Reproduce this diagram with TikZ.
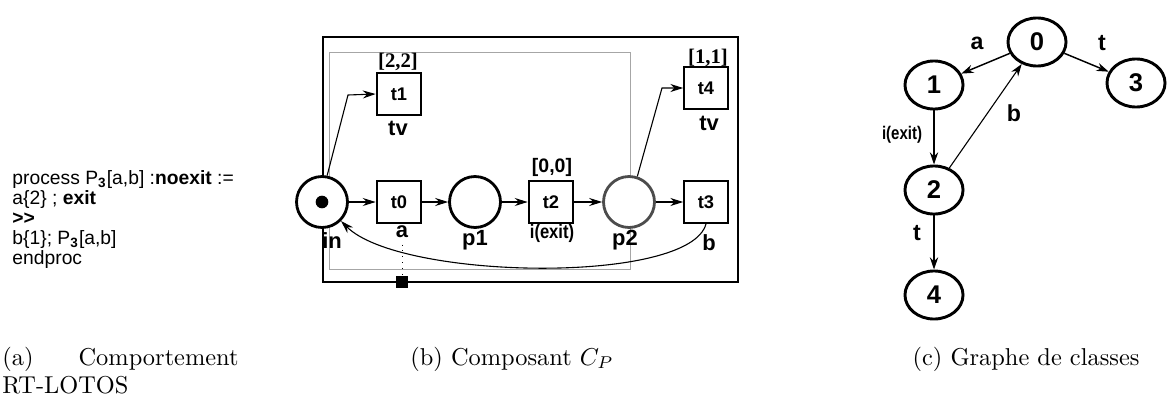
\documentclass[tikz,border=0pt]{standalone}
\usepackage{fontspec}
\newfontfamily\arial{Liberation Sans}
\newfontfamily\tnr{Liberation Serif}
\usetikzlibrary{arrows.meta,shapes.geometric}
\begin{document}
\begin{tikzpicture}[x=0.41pt,y=-0.41pt,
  place/.style={circle,draw,fill=white,line width=1.15pt,minimum size=20.9pt,inner sep=0},
  trans/.style={rectangle,draw,fill=white,line width=1.15pt,minimum width=18pt,minimum height=17.2pt,inner sep=0,font=\arial\bfseries\fontsize{7.5}{8}\selectfont},
  transthin/.style={trans,line width=0.7pt},
  arc/.style={-{Stealth[length=5.3pt,width=3.3pt]},line width=0.45pt},
  lbl/.style={font=\arial\bfseries\fontsize{9}{10}\selectfont,inner sep=0},
  itv/.style={font=\tnr\bfseries\fontsize{8.5}{9}\selectfont,inner sep=0},
  state/.style={ellipse,draw,fill=white,line width=1.2pt,minimum width=23.8pt,minimum height=19.7pt,inner sep=0,font=\arial\bfseries\fontsize{10.5}{11}\selectfont},
  garc/.style={-{Stealth[length=5pt,width=3.4pt]},line width=0.6pt},
  glbl/.style={font=\arial\bfseries\fontsize{9.5}{10}\selectfont,inner sep=0},
  captxt/.style={font=\fontsize{10}{11.5}\selectfont,inner sep=0}
]
\useasboundingbox (0,0) rectangle (1169,399);

% (a) RT-LOTOS text
\node[anchor=north west,align=left,inner sep=0,font=\arial\fontsize{7.9}{8.2}\selectfont] (code) at (12,170)
 {process P\textsubscript{\bfseries 3}[a,b] :\textbf{noexit} :=\\
  a\{2\} ; \textbf{exit}\\
  \textbf{>\kern0pt>}\\
  b\{1\}; P\textsubscript{\bfseries 3}[a,b]\\
  endproc};

% (b) component
\draw[line width=0.8pt] (323,37) rectangle (738,282);
\draw[line width=0.4pt,black!35] (329,52) rectangle (630,269);

\node[place] (in) at (322,202) {};
\fill (in.center) circle (2.6pt);
\node[trans] (t0) at (399,202) {t0};
\node[place] (p1) at (475,202) {};
\node[trans] (t2) at (551,202) {t2};
\node[place,draw=black!70] (p2) at (629,202) {};
\node[transthin] (t3) at (706,202) {t3};
\node[trans] (t1) at (399,94) {t1};
\node[transthin] (t4) at (706,88) {t4};

\node[lbl] (lin) at (332,241) {in};
\node[lbl] (la) at (402,232) {a};
\node[lbl] (lp1) at (475,240) {p1};
\node[lbl,font=\arial\bfseries\fontsize{8}{8.5}\selectfont] (lt2) at (552,233) {\scalebox{0.85}[1]{i(exit)}};
\node[lbl] (lp2) at (625,240) {p2};
\node[lbl] (lb) at (709,243) {b};
\node[lbl] (tv1) at (398,128) {tv};
\node[lbl] (tv4) at (709,123) {tv};
\node[itv] (i22) at (398,62) {[2,2]};
\node[itv] (i11) at (708,58) {[1,1]};
\node[lbl,font=\arial\bfseries\fontsize{8}{9}\selectfont] (i00) at (552,167) {[0,0]};

\draw[arc] (in) -- (t0);
\draw[arc] (t0) -- (p1);
\draw[arc] (p1) -- (t2);
\draw[arc] (t2) -- (p2);
\draw[arc] (p2) -- (t3);
\draw[arc] (in.79) -- (348,95) -- (t1.west);
\draw[arc] (p2.72) -- (662,88) -- (t4.west);
\draw[arc] (t3.south) .. controls (690,285) and (400,280) .. (in);

\node[rectangle,fill=black,minimum size=4.9pt,inner sep=0] (port) at (402,282) {};
\draw[dotted,line width=0.4pt] (la.south) ++(0,6) -- (port.north);

% (c) class graph
\node[state] (s0) at (1037,42) {0};
\node[state] (s1) at (934,85) {1};
\node[state] (s3) at (1136,83) {3};
\node[state] (s2) at (934,190) {2};
\node[state] (s4) at (934,295) {4};
\draw[garc] (s0) -- (s1);
\draw[garc] (s0) -- (s3);
\draw[garc] (s1) -- (s2);
\draw[garc,line width=0.45pt] (s2) -- (s0);
\draw[garc] (s2) -- (s4);
\node[glbl] (ga) at (977,43) {a};
\node[glbl] (gt1) at (1102,43) {t};
\node[glbl] (gb) at (1014,113) {b};
\node[inner sep=0,font=\arial\bfseries\fontsize{7.5}{8}\selectfont] (gi) at (902,135) {\scalebox{0.82}[1]{i(exit)}};
\node[glbl] (gt2) at (917,233) {t};

% captions
\node[captxt,anchor=north west,text width=96.8pt,align=justify] (capa) at (2,347)
 {(a)\hfill Comportement\\RT-LOTOS};
\node[captxt,anchor=base] (capb) at (512,365) {(b) Composant $C_P$};
\node[captxt,anchor=base] (capc) at (1026,365) {(c) Graphe de classes};
\end{tikzpicture}
\end{document}
